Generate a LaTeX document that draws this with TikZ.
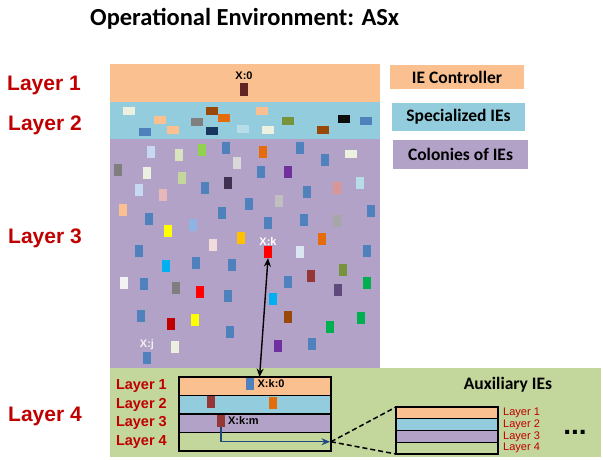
\documentclass[tikz,border=0pt]{standalone}
\usepackage{fontspec}
\setmainfont{Liberation Sans}
\newfontfamily\calfont{Carlito}
\usepackage{tikz}
\usetikzlibrary{positioning,arrows.meta,calc}

\definecolor{lyrone}{HTML}{FAC090}
\definecolor{lyrtwo}{HTML}{93CDDD}
\definecolor{lyrthree}{HTML}{B3A2C7}
\definecolor{lyrfour}{HTML}{C3D69B}
\definecolor{lblred}{HTML}{C00000}
\definecolor{arrowblue}{HTML}{1F497D}
\definecolor{ieblue}{HTML}{4F81BD}
\definecolor{ccream}{HTML}{EBF1DE}
\definecolor{cbrown}{HTML}{984807}
\definecolor{cpeach}{HTML}{FAC090}
\definecolor{cgray}{HTML}{7F7F7F}
\definecolor{cgrayb}{HTML}{A6A6A6}
\definecolor{cnavy}{HTML}{17375E}
\definecolor{corange}{HTML}{E46C0A}
\definecolor{clightblue}{HTML}{B7DEE8}
\definecolor{colive}{HTML}{77933C}
\definecolor{cnearblack}{HTML}{0D0D0D}
\definecolor{cpaleblue}{HTML}{C6D9F1}
\definecolor{cpalegreen}{HTML}{D7E4BD}
\definecolor{cpalegreenb}{HTML}{C3D69B}
\definecolor{cgreen}{HTML}{92D050}
\definecolor{cgreenb}{HTML}{00B050}
\definecolor{clightgray}{HTML}{D9D9D9}
\definecolor{clightgrayb}{HTML}{BFBFBF}
\definecolor{cdarkpurple}{HTML}{403151}
\definecolor{cdarkpurpleb}{HTML}{604A7B}
\definecolor{cpink}{HTML}{E6B9B8}
\definecolor{cpinkb}{HTML}{D99694}
\definecolor{cverypink}{HTML}{F2DCDB}
\definecolor{cskyblue}{HTML}{8DB4E2}
\definecolor{cyellow}{HTML}{FFFF00}
\definecolor{cgold}{HTML}{FFC000}
\definecolor{cpurple}{HTML}{7030A0}
\definecolor{cwhiteblue}{HTML}{DCE6F2}
\definecolor{coffwhite}{HTML}{F2F2F2}
\definecolor{ccyan}{HTML}{00B0F0}
\definecolor{cred}{HTML}{FF0000}
\definecolor{cdarkred}{HTML}{C00000}
\definecolor{cbrick}{HTML}{953735}
\definecolor{cmaroon}{HTML}{632523}

\tikzset{
  band/.style={rectangle, inner sep=0, outer sep=0, anchor=north west},
  legbox/.style={rectangle, inner sep=0, minimum width=134, minimum height=28,
    font=\calfont\bfseries\fontsize{17.5}{20}\selectfont},
  lyrlbl/.style={text=lblred, inner sep=0, anchor=base west,
    font=\bfseries\fontsize{21}{24}\selectfont},
  lyrsm/.style={text=lblred, inner sep=0, font=\bfseries\fontsize{14.5}{16}\selectfont},
  auxlbl/.style={text=lblred, inner sep=0, font=\fontsize{11}{12}\selectfont},
  idlbl/.style={inner sep=0, font=\bfseries\fontsize{11}{12}\selectfont},
  sqv/.style={rectangle, inner sep=0, minimum width=8.5, minimum height=12},
  sqh/.style={rectangle, inner sep=0, minimum width=11.5, minimum height=8.5},
  rowbox/.style={rectangle, draw=black, line width=1.2pt, inner sep=0, outer sep=0,
    minimum width=152, minimum height=18.5},
  auxrow/.style={rectangle, draw=black, line width=1.2pt, inner sep=0, outer sep=0,
    minimum width=102, minimum height=11.75}
}

\begin{document}
\begin{tikzpicture}[x=1pt, y=-1pt, >={Stealth[length=8.5pt, width=7pt]}]
\useasboundingbox (0,0) rectangle (603,459);

\node[inner sep=0, anchor=base west, font=\calfont\bfseries\fontsize{24.5}{28}\selectfont]
  (title) at (90,25) {Operational Environment: ASx};

\node[band, fill=lyrone, minimum width=270, minimum height=38] (l1) at (110,64) {};
\node[band, fill=lyrtwo, minimum width=270, minimum height=37] (l2) at (110,102) {};
\node[band, fill=lyrthree, minimum width=270, minimum height=229] (l3) at (110,139) {};
\node[band, fill=lyrfour, minimum width=491, minimum height=89] (l4) at (110,368) {};

\node[lyrlbl] (lab1) at (7,90) {Layer 1};
\node[lyrlbl] (lab2) at (8,130) {Layer 2};
\node[lyrlbl] (lab3) at (8,243) {Layer 3};
\node[lyrlbl] (lab4) at (8,421) {Layer 4};

\node[legbox, fill=lyrone, minimum height=24] (legone) at (457,77) {IE Controller};
\node[legbox, fill=lyrtwo, minimum width=133] (legtwo) at (458.5,117) {Specialized IEs};
\node[legbox, fill=lyrthree, minimum width=135, minimum height=29] (legthree) at (460.5,154.5) {Colonies of IEs};

\node[sqv, fill=cmaroon, minimum height=13] (x0) at (244,89.5) {};
\node[idlbl, above=2.5pt of x0] (x0lbl) {X:0};

\foreach \x/\y/\c [count=\i] in {129/111/ccream, 212/111/cbrown, 160/120/cpeach,
  145/132/ieblue, 173/130/cpeach, 197/122/cgray, 212/131/cnavy, 224/118/corange,
  243/129/clightblue, 262/111/cpeach, 268/130/ccream, 288/121/colive,
  323/130/cbrown, 344/119/cnearblack, 366/121/ieblue, 351/154/ccream}
  \node[sqh, fill=\c] (sh\i) at (\x,\y) {};

\foreach \x/\y/\c [count=\i] in {151/152/cpaleblue, 179/155/cpalegreen, 202/150/cgreen,
  226/148/ieblue, 237/163/clightgray, 118/170/cgray, 147/173/ccream, 182/178/cpalegreenb,
  205/188/ieblue, 228/183/cdarkpurple, 139/190/cpaleblue, 163/195/cpink, 249/204/ieblue,
  123/210/cpeach, 222/213/ieblue, 149/219/ieblue, 193/225/cskyblue, 168/231/cyellow,
  241/238/cgold, 213/245/cverypink, 139/251/ieblue,
  263/152/corange, 300/148/ieblue, 325/160/ieblue, 261/172/ieblue, 288/172/cpurple,
  307/192/ieblue, 337/188/cpinkb, 360/183/clightblue, 279/201/clightgrayb, 371/211/ieblue,
  268/223/ieblue, 304/220/ieblue, 337/221/cgrayb, 322/239/corange, 300/252/cwhiteblue,
  367/251/ieblue,
  166/266/ccyan, 196/263/ieblue, 232/265/ieblue, 124/283/coffwhite, 144/284/ieblue,
  176/288/cgray, 200/292/cred, 228/296/ieblue, 141/316/ieblue, 171/324/cdarkred,
  195/320/cyellow, 230/332/ieblue, 175/347/ccream,
  311/276/cbrick, 343/270/colive, 288/282/ieblue, 338/290/cdarkpurpleb, 367/283/cgreenb,
  273/299/ccyan, 288/317/cbrown, 361/318/cgreenb, 330/327/cgreenb, 278/346/cpurple,
  312/344/ieblue}
  \node[sqv, fill=\c] (sv\i) at (\x,\y) {};

\node[sqv, fill=cred] (xk) at (268,252) {};
\node[idlbl, text=white, above=0.5pt of xk] (xklbl) {X:k};
\node[sqv, fill=ieblue] (xj) at (147,358) {};
\node[idlbl, text=coffwhite, above=2pt of xj] (xjlbl) {X:j};

\node[rowbox, fill=lyrone, anchor=north west] (in1) at (179,377) {};
\node[rowbox, fill=lyrtwo, below=0pt of in1] (in2) {};
\node[rowbox, fill=lyrthree, below=0pt of in2] (in3) {};
\node[rowbox, fill=lyrfour, below=0pt of in3] (in4) {};
\node[lyrsm, left=12pt of in1] (inlab1) {Layer 1};
\node[lyrsm, left=12pt of in2] (inlab2) {Layer 2};
\node[lyrsm, left=12pt of in3] (inlab3) {Layer 3};
\node[lyrsm, left=12pt of in4] (inlab4) {Layer 4};

\node[sqv, fill=ieblue] (xko) at (250,384) {};
\node[idlbl, right=3pt of xko] (xkolbl) {X:k:0};
\node[sqv, fill=cbrick] (rtwoa) at (211,402) {};
\node[sqv, fill=corange] (rtwob) at (273,403) {};
\node[sqv, fill=cbrick] (xkm) at (221,421) {};
\node[idlbl, right=2.5pt of xkm] (xkmlbl) {X:k:m};

\node[inner sep=0, anchor=base, font=\calfont\bfseries\fontsize{17.5}{20}\selectfont]
  (auxttl) at (508,389) {Auxiliary IEs};

\node[auxrow, fill=lyrone, anchor=north west] (ax1) at (396,407) {};
\node[auxrow, fill=lyrtwo, below=0pt of ax1] (ax2) {};
\node[auxrow, fill=lyrthree, below=0pt of ax2] (ax3) {};
\node[auxrow, fill=lyrfour, below=0pt of ax3] (ax4) {};
\node[auxlbl, right=5pt of ax1] (axlab1) {Layer 1};
\node[auxlbl, right=5pt of ax2] (axlab2) {Layer 2};
\node[auxlbl, right=5pt of ax3] (axlab3) {Layer 3};
\node[auxlbl, right=5pt of ax4] (axlab4) {Layer 4};

\node[inner sep=0, anchor=base, font=\bfseries\fontsize{28}{30}\selectfont] (dots) at (575,434) {...};

\draw[<->, line width=1.4pt] (xk.south) -- ($(in1.north west)!0.53!(in1.north east)$);
\draw[->, draw=arrowblue, line width=1.2pt] (xkm.south) |- ([xshift=-1pt]in4.east);
\draw[line width=1.5pt, dash pattern=on 5pt off 3pt] (in4.east) -- (ax1.north west);
\draw[line width=1.5pt, dash pattern=on 5pt off 3pt] (in4.east) -- (ax4.south west);
\end{tikzpicture}
\end{document}
